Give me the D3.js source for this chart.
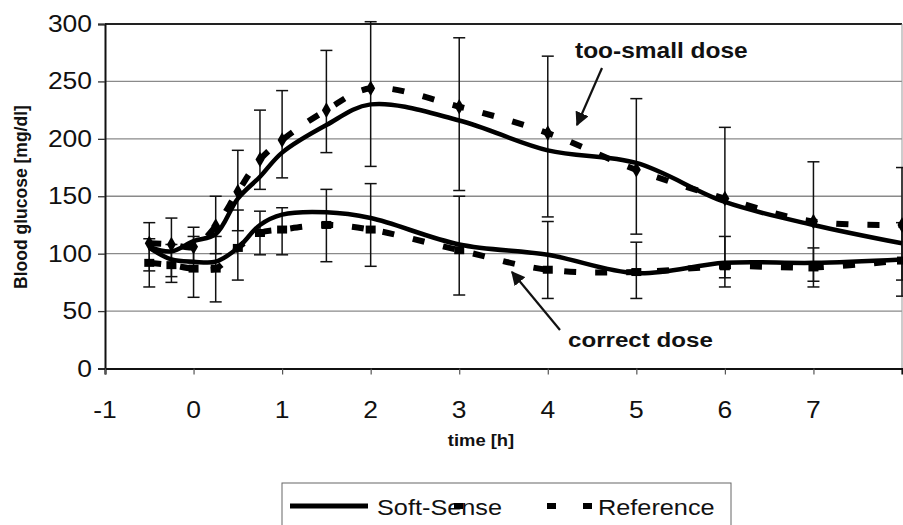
<!DOCTYPE html>
<html><head><meta charset="utf-8">
<script src="https://cdn.jsdelivr.net/npm/d3@7"></script>
<style>body{margin:0;background:#fff;} svg{display:block;font-family:"Liberation Sans",Arial,sans-serif;}</style>
</head><body>
<svg id="c" width="903" height="525"></svg>
<script>
// ---- data ----
const time = [-0.5, -0.25, 0, 0.25, 0.5, 0.75, 1, 1.5, 2, 3, 4, 5, 6, 7, 8];
const softSmall   = [106, 102, 111, 117, 148, 167, 188, 212, 230, 216, 190, 179, 145, 125, 109];
const refSmall    = [109, 108, 106, 124, 154, 182, 199, 225, 244, 228, 205, 173, 148, 128, 125];
const softCorrect = [105, 95, 93, 93, 105, 125, 134, 136, 131, 108, 99, 83, 92, 92, 95];
const refCorrect  = [92, 90, 87, 87, 105, 118, 121, 125, 121, 103, 86, 84, 89, 88, 94];
const smallHi   = [127, 131, 123, 150, 190, 225, 242, 277, 302, 288, 272, 235, 210, 180, 175];
const smallLo   = [85, 80, 92, 100, 120, 156, 166, 188, 176, 155, 132, 117, 79, 76, 77];
const correctHi = [113, 108, 115, 115, 138, 137, 140, 156, 161, 150, 128, 110, 115, 105, 127];
const correctLo = [71, 75, 62, 58, 77, 99, 99, 93, 89, 64, 61, 61, 71, 71, 63];
const xTicks = [-1, 0, 1, 2, 3, 4, 5, 6, 7];
const yTicks = [0, 50, 100, 150, 200, 250, 300];
const seriesNames = ["Soft-Sense", "Reference"];
const annotations = ["too-small dose", "correct dose"];
const xTitle = "time [h]";
const yTitle = "Blood glucose  [mg/dl]";

// ---- layout ----
const svg = d3.select("#c");
const x = d3.scaleLinear().domain([-1, 8]).range([105, 902]);
const y = d3.scaleLinear().domain([0, 300]).range([368.5, 24]);
const SX = 1.15;
function txt(g, s, px, py, anchor, size, weight) {
  return g.append("text").attr("transform", `translate(${px},${py}) scale(${SX},1)`)
    .attr("text-anchor", anchor).attr("font-size", size).attr("font-weight", weight || "normal")
    .attr("fill", "#111").text(s);
}

// gridlines
svg.append("g").selectAll("line").data(yTicks.filter(v => v > 0 && v < 300)).join("line")
  .attr("x1", x(-1)).attr("x2", x(8)).attr("y1", d => y(d)).attr("y2", d => y(d))
  .attr("stroke", "#8a8a8a").attr("stroke-width", 1.3);
// top border & right border
svg.append("line").attr("x1", x(-1)).attr("x2", x(8)).attr("y1", y(300)).attr("y2", y(300))
  .attr("stroke", "#222").attr("stroke-width", 1.8);
svg.append("line").attr("x1", x(8)).attr("x2", x(8)).attr("y1", y(300)).attr("y2", y(0))
  .attr("stroke", "#999").attr("stroke-width", 1);

// y axis
const yAxis = svg.append("g").attr("transform", `translate(${x(-1)},0)`)
  .call(d3.axisLeft(y).tickValues(yTicks).tickSize(7).tickFormat(""));
yAxis.select(".domain").attr("stroke", "#111").attr("stroke-width", 2);
yAxis.selectAll(".tick line").attr("stroke", "#333").attr("stroke-width", 1.3);
yTicks.forEach(v => txt(svg, String(v), 92, y(v) + 8, "end", 23));

// x axis
const xAxis = svg.append("g").attr("transform", `translate(0,${y(0)})`)
  .call(d3.axisBottom(x).tickValues(xTicks).tickSize(6).tickFormat(""));
xAxis.select(".domain").attr("stroke", "#111").attr("stroke-width", 2.2);
xAxis.selectAll(".tick line").attr("stroke", "#555").attr("stroke-width", 1.2);
xTicks.forEach(v => txt(svg, String(v), x(v), 418, "middle", 23));

// axis titles
txt(svg, xTitle, 481, 446, "middle", 16, "bold");
svg.append("text").attr("transform", "translate(27,197) rotate(-90)").attr("text-anchor", "middle")
  .attr("font-size", 17.5).attr("font-weight", "bold").attr("fill", "#111").text(yTitle);

// error bars
function errBars(lo, hi) {
  const g = svg.append("g").attr("stroke", "#111").attr("stroke-width", 1.5);
  time.forEach((t, i) => {
    g.append("line").attr("x1", x(t)).attr("x2", x(t)).attr("y1", y(lo[i])).attr("y2", y(hi[i]));
    [lo[i], hi[i]].forEach(v => g.append("line").attr("x1", x(t) - 6).attr("x2", x(t) + 6)
      .attr("y1", y(v)).attr("y2", y(v)));
  });
}
errBars(smallLo, smallHi);
errBars(correctLo, correctHi);

// lines
const line = d3.line().x(d => x(d[0])).y(d => y(d[1])).curve(d3.curveCatmullRom.alpha(0.5));
function series(vals, dashed) {
  svg.append("path").attr("d", line(time.map((t, i) => [t, vals[i]])))
    .attr("fill", "none").attr("stroke", "#000")
    .attr("stroke-width", dashed ? 6 : 4.5)
    .attr("stroke-dasharray", dashed ? "12,19" : null);
}
series(refSmall, true);
series(refCorrect, true);
// markers
svg.append("g").selectAll("path").data(time.map((t, i) => [t, refSmall[i]])).join("path")
  .attr("transform", d => `translate(${x(d[0])},${y(d[1])})`)
  .attr("d", d3.symbol(d3.symbolDiamond, 70)).attr("fill", "#000");
svg.append("g").selectAll("rect").data(time.map((t, i) => [t, refCorrect[i]])).join("rect")
  .attr("x", d => x(d[0]) - 5).attr("y", d => y(d[1]) - 4).attr("width", 10).attr("height", 8)
  .attr("fill", "#000");
series(softSmall, false);
series(softCorrect, false);

// annotations
txt(svg, annotations[0], 575, 58, "start", 21.3, "bold");
txt(svg, annotations[1], 568, 347, "start", 21, "bold");
svg.append("defs").append("marker").attr("id", "ah").attr("viewBox", "0 0 10 10")
  .attr("refX", 9).attr("refY", 5).attr("markerWidth", 14).attr("markerHeight", 14)
  .attr("markerUnits", "userSpaceOnUse").attr("orient", "auto")
  .append("path").attr("d", "M0,0 L10,5 L0,10 Z").attr("fill", "#111");
const arrowsG = svg.append("g").attr("stroke", "#111").attr("stroke-width", 2.2);
arrowsG.append("line").attr("x1", 602).attr("y1", 68).attr("x2", 577).attr("y2", 125)
  .attr("marker-end", "url(#ah)");
arrowsG.append("line").attr("x1", 560).attr("y1", 330).attr("x2", 512).attr("y2", 272)
  .attr("marker-end", "url(#ah)");

// legend
const lg = svg.append("g");
lg.append("rect").attr("x", 282).attr("y", 483).attr("width", 449).attr("height", 60)
  .attr("fill", "#fff").attr("stroke", "#666").attr("stroke-width", 1);
lg.append("line").attr("x1", 290).attr("x2", 368).attr("y1", 506).attr("y2", 506)
  .attr("stroke", "#000").attr("stroke-width", 5);
txt(lg, seriesNames[0], 377, 515, "start", 22);
lg.append("line").attr("x1", 454).attr("x2", 592).attr("y1", 506).attr("y2", 506)
  .attr("stroke", "#000").attr("stroke-width", 6).attr("stroke-dasharray", "9,84,9,27,9");
txt(lg, seriesNames[1], 598, 515, "start", 22);
</script>
</body></html>
